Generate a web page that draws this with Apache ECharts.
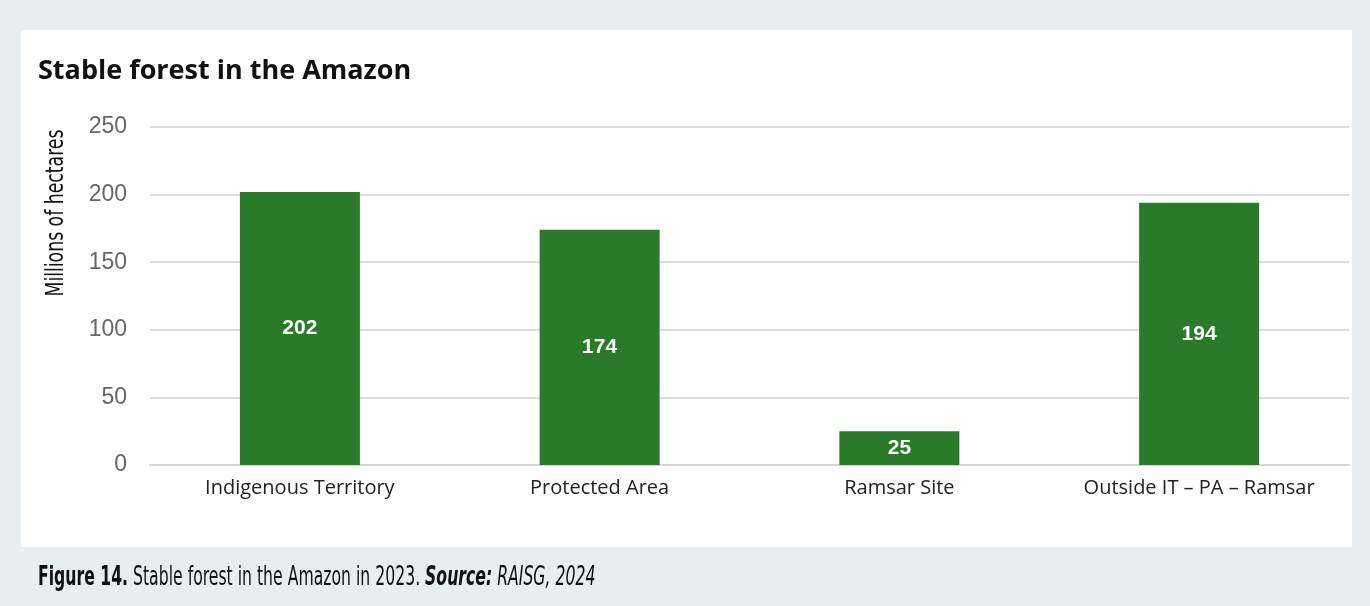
<!DOCTYPE html>
<html>
<head>
<meta charset="utf-8">
<script src="https://cdn.jsdelivr.net/npm/echarts@6/dist/echarts.min.js"></script>
<style>
  html, body { margin: 0; padding: 0; background: #e8edf0; }
  #chart { width: 1370px; height: 606px; }
</style>
</head>
<body>
<div id="chart"></div>
<script>
// Stable forest area by land category, 2023 (millions of hectares)
const categories = ['Indigenous Territory', 'Protected Area', 'Ramsar Site', 'Outside IT \u2013 PA \u2013 Ramsar'];
const forestArea = [202, 174, 25, 194];
const yTicks = { min: 0, max: 250, interval: 50 };

const narrowFont = '"DejaVu Sans Condensed", "Liberation Sans Narrow", sans-serif';

const chart = echarts.init(document.getElementById('chart'), null, { renderer: 'canvas' });

chart.setOption({
  backgroundColor: '#e8edf0',
  animation: false,
  title: {
    text: 'Stable forest in the Amazon',
    left: 38,
    top: 58,
    padding: 0,
    textStyle: {
      fontFamily: '"Open Sans", Inter, sans-serif',
      fontWeight: 'bold',
      fontSize: 27,
      color: '#111'
    }
  },
  graphic: [
    {
      type: 'rect',
      z: -10,
      silent: true,
      shape: { x: 21, y: 30, width: 1331, height: 517 },
      style: { fill: '#ffffff' }
    },
    {
      // vertical axis title, condensed
      type: 'text',
      x: 57,
      y: 213,
      rotation: Math.PI / 2,
      scaleX: 0.8,
      silent: true,
      style: {
        text: 'Millions of hectares',
        align: 'center',
        verticalAlign: 'middle',
        fontFamily: narrowFont,
        fontSize: 24,
        fill: '#111'
      }
    },
    {
      // figure caption below the panel
      type: 'text',
      x: 38,
      y: 578,
      scaleX: 0.67,
      silent: true,
      style: {
        text: '{b|Figure 14.} Stable forest in the Amazon in 2023. {bi|Source:} {i|RAISG, 2024}',
        verticalAlign: 'middle',
        rich: {
          b: { fontFamily: narrowFont, fontWeight: 'bold', fontSize: 26, fill: '#111' },
          bi: { fontFamily: narrowFont, fontWeight: 'bold', fontStyle: 'italic', fontSize: 26, fill: '#111' },
          i: { fontFamily: narrowFont, fontStyle: 'italic', fontSize: 26, fill: '#111' }
        },
        fontFamily: narrowFont,
        fontSize: 26,
        fill: '#111'
      }
    }
  ],
  grid: {
    left: 150,
    right: 21,
    top: 127,
    bottom: 141,
    containLabel: false
  },
  xAxis: {
    type: 'category',
    data: categories,
    axisLine: { show: true, lineStyle: { color: '#d6d6d6', width: 2 } },
    axisTick: { show: false },
    axisLabel: {
      interval: 0,
      hideOverlap: false,
      margin: 13,
      fontFamily: '"Open Sans", Inter, sans-serif',
      fontSize: 20,
      color: '#222'
    }
  },
  yAxis: {
    type: 'value',
    min: yTicks.min,
    max: yTicks.max,
    interval: yTicks.interval,
    axisLine: { show: false },
    axisTick: { show: false },
    axisLabel: {
      margin: 23,
      fontFamily: '"Liberation Sans", Arial, sans-serif',
      fontSize: 23,
      color: '#666'
    },
    splitLine: { lineStyle: { color: '#dcdcdc', width: 2 } }
  },
  series: [
    {
      type: 'bar',
      data: forestArea,
      barWidth: 120,
      itemStyle: { color: '#297b29' },
      label: {
        show: true,
        position: 'inside',
        color: '#ffffff',
        fontFamily: '"Liberation Sans", Arial, sans-serif',
        fontWeight: 'bold',
        fontSize: 21
      }
    }
  ]
});
</script>
</body>
</html>
